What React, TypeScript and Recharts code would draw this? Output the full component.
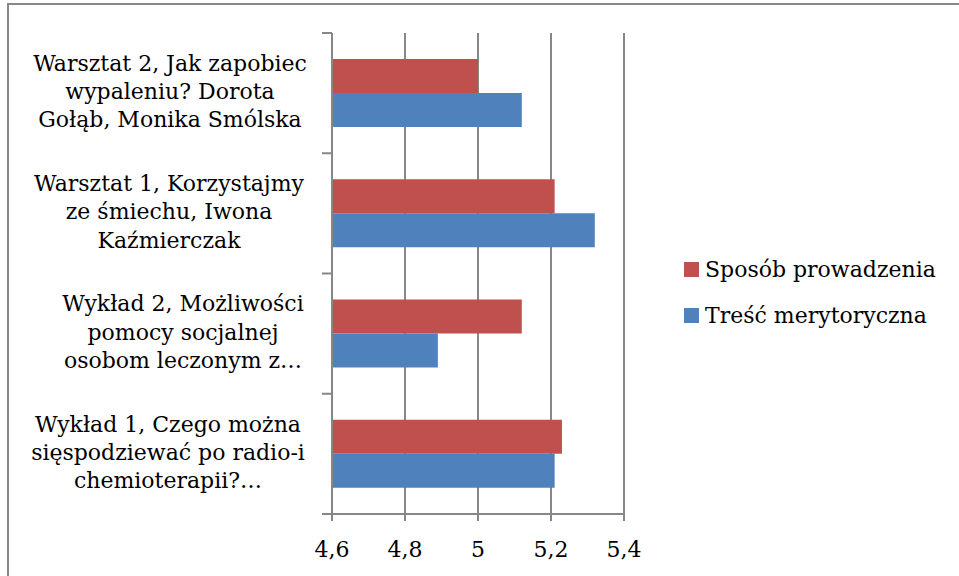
import React from 'react';
import { BarChart, Bar, XAxis, YAxis, CartesianGrid } from 'recharts';

const categoryLines: string[][] = [
  ['Warsztat 2, Jak zapobiec', 'wypaleniu? Dorota', 'Gołąb, Monika Smólska'],
  ['Warsztat 1, Korzystajmy', 'ze śmiechu, Iwona', 'Kaźmierczak'],
  ['Wykład 2, Możliwości', 'pomocy socjalnej', 'osobom leczonym z…'],
  ['Wykład 1, Czego można', 'sięspodziewać po radio-i', 'chemioterapii?…'],
];
const categories = categoryLines.map((l) => l.join(' '));
const sposobProwadzenia = [5.0, 5.21, 5.12, 5.23];
const trescMerytoryczna = [5.12, 5.32, 4.89, 5.21];
const xTicks = [4.6, 4.8, 5.0, 5.2, 5.4];
const seriesNames = ['Sposób prowadzenia', 'Treść merytoryczna'];

const COLORS = ['#C0504D', '#4F81BD'];
const AXIS = '#878787';
const FONT = '"DejaVu Serif", serif';
const FS = 22;
const LABEL_DX = [0, -1, 13, -2];

const data = categories.map((c, i) => ({
  name: c,
  sposob: sposobProwadzenia[i],
  tresc: trescMerytoryczna[i],
}));

const YTick = (props: any) => {
  const { x, y, payload, index } = props;
  const half = payload && typeof payload.offset === 'number' && payload.offset > 0 ? payload.offset : 60.1;
  const lines = categoryLines[index] ?? [];
  const cx = x - 162 + (LABEL_DX[index] ?? 0);
  return (
    <g>
      <line x1={x - 10} x2={x} y1={y - half} y2={y - half} stroke={AXIS} strokeWidth={2} />
      {index === categories.length - 1 && (
        <line x1={x - 10} x2={x} y1={y + half} y2={y + half} stroke={AXIS} strokeWidth={2} />
      )}
      <text textAnchor="middle" fontSize={FS} fontFamily={FONT} fill="#000">
        {lines.map((l, i) => (
          <tspan key={i} x={cx} y={y + 6 + (i - 1) * 28.3}>
            {l}
          </tspan>
        ))}
      </text>
    </g>
  );
};

export default function App() {
  return (
    <div
      style={{
        position: 'absolute',
        left: 0,
        top: 0,
        width: 959,
        height: 576,
        overflow: 'hidden',
        background: '#fff',
      }}
    >
      <div
        style={{
          position: 'absolute',
          left: 7,
          top: 3,
          width: 1200,
          height: 1200,
          borderLeft: `2px solid ${AXIS}`,
          borderTop: `2px solid ${AXIS}`,
        }}
      />
      <div style={{ position: 'absolute', left: 0, top: 0 }}>
        <BarChart
          width={959}
          height={576}
          data={data}
          layout="vertical"
          margin={{ top: 33, right: 335, bottom: 22, left: 0 }}
          barGap={0}
        >
          <CartesianGrid horizontal={false} stroke={AXIS} strokeWidth={2} />
          <XAxis
            type="number"
            domain={[4.6, 5.4]}
            ticks={xTicks}
            interval={0}
            height={40}
            tickSize={7}
            tickMargin={20}
            stroke={AXIS}
            strokeWidth={2}
            axisLine={{ stroke: AXIS, strokeWidth: 2 }}
            tickLine={{ stroke: AXIS, strokeWidth: 2 }}
            tick={{ fill: '#000', fontSize: FS, fontFamily: FONT }}
            tickFormatter={(v: number) => String(v).replace('.', ',')}
          />
          <YAxis
            type="category"
            dataKey="name"
            width={332}
            interval={0}
            tickSize={0}
            tickMargin={0}
            tickLine={false}
            axisLine={{ stroke: AXIS, strokeWidth: 2 }}
            tick={<YTick />}
          />
          <Bar dataKey="sposob" name={seriesNames[0]} fill={COLORS[0]} barSize={34} isAnimationActive={false} />
          <Bar dataKey="tresc" name={seriesNames[1]} fill={COLORS[1]} barSize={34} isAnimationActive={false} />
        </BarChart>
      </div>
      <svg width={959} height={576} style={{ position: 'absolute', left: 0, top: 0, pointerEvents: 'none' }}>
        {seriesNames.map((n, i) => (
          <g key={n}>
            <rect x={684} y={262 + i * 46} width={15} height={15} fill={COLORS[i]} />
            <text x={705} y={277 + i * 46} fontSize={FS} fontFamily={FONT} fill="#000">
              {n}
            </text>
          </g>
        ))}
      </svg>
    </div>
  );
}
